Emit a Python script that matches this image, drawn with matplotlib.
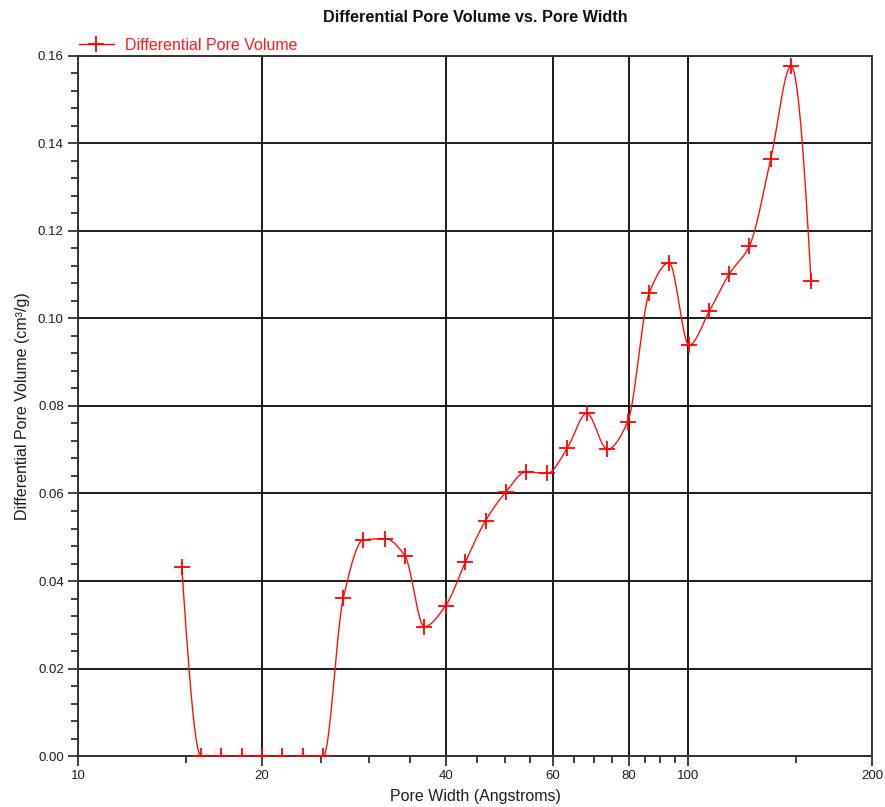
import numpy as np
import matplotlib
matplotlib.use("Agg")
import matplotlib.pyplot as plt
from matplotlib.ticker import FixedLocator, NullFormatter, MultipleLocator, FormatStrFormatter

plt.rcParams["font.family"] = ["Liberation Sans", "DejaVu Sans"]

# Pore width (Angstroms) and differential pore volume (cm3/g)
pore_width = [14.77, 15.89, 17.13, 18.57, 20.0, 21.57, 23.38, 25.21, 27.19, 29.32,
              31.83, 34.32, 36.91, 40.02, 43.09, 46.51, 50.19, 54.13, 58.73, 63.33,
              68.14, 73.67, 79.57, 86.32, 92.99, 100.3, 108.3, 116.8, 125.9, 136.5,
              147.4, 158.9]
diff_volume = [0.0433, 0.0, 0.0, 0.0, 0.0, 0.0, 0.0, 0.0, 0.0362, 0.0494,
               0.0497, 0.0457, 0.0296, 0.0344, 0.0443, 0.0538, 0.0603, 0.0649, 0.0646, 0.0704,
               0.0783, 0.0701, 0.0764, 0.1059, 0.1127, 0.0939, 0.1017, 0.1102, 0.1165, 0.1364,
               0.1576, 0.1086]

major_x = [10, 20, 40, 60, 80, 100, 200]
minor_x = [15, 25, 30, 35, 45, 50, 55, 65, 70, 75, 85, 90, 95, 150]


def pchip_curve(x, y, n=40):
    """Shape-preserving (Fritsch-Carlson) cubic through the points."""
    x = np.asarray(x, float)
    y = np.asarray(y, float)
    h = np.diff(x)
    d = np.diff(y) / h
    m = np.zeros_like(y)
    for k in range(1, len(x) - 1):
        if d[k - 1] * d[k] <= 0:
            m[k] = 0.0
        else:
            w1 = 2 * h[k] + h[k - 1]
            w2 = h[k] + 2 * h[k - 1]
            m[k] = (w1 + w2) / (w1 / d[k - 1] + w2 / d[k])

    def end_slope(h0, h1, d0, d1):
        s = ((2 * h0 + h1) * d0 - h0 * d1) / (h0 + h1)
        if np.sign(s) != np.sign(d0):
            s = 0.0
        elif np.sign(d0) != np.sign(d1) and abs(s) > abs(3 * d0):
            s = 3 * d0
        return s

    m[0] = end_slope(h[0], h[1], d[0], d[1])
    m[-1] = end_slope(h[-1], h[-2], d[-1], d[-2])
    xs, ys = [], []
    for k in range(len(x) - 1):
        t = np.linspace(0, 1, n, endpoint=(k == len(x) - 2))
        h00 = 2 * t**3 - 3 * t**2 + 1
        h10 = t**3 - 2 * t**2 + t
        h01 = -2 * t**3 + 3 * t**2
        h11 = t**3 - t**2
        xs.append(x[k] + t * h[k])
        ys.append(h00 * y[k] + h10 * h[k] * m[k] + h01 * y[k + 1] + h11 * h[k] * m[k + 1])
    return np.concatenate(xs), np.concatenate(ys)


fig = plt.figure(figsize=(8.85, 8.07), dpi=100)
ax = fig.add_axes([0.0886, 0.0630, 0.8966, 0.8680])

# smooth curve computed in log-width space
lx, ly = pchip_curve(np.log10(pore_width), diff_volume)
ax.plot(10 ** lx, ly, color="#ff1010", lw=1.0, zorder=3)
ax.plot(pore_width, diff_volume, linestyle="none", marker="+", ms=12, mew=1.3,
        color="#ff0000", zorder=4)

ax.set_xscale("log")
ax.set_xlim(10, 200)
ax.set_ylim(0, 0.16)

ax.xaxis.set_major_locator(FixedLocator(major_x))
ax.xaxis.set_major_formatter(FormatStrFormatter("%d"))
ax.xaxis.set_minor_locator(FixedLocator(minor_x))
ax.xaxis.set_minor_formatter(NullFormatter())
ax.yaxis.set_major_locator(MultipleLocator(0.02))
ax.yaxis.set_minor_locator(MultipleLocator(0.004))
ax.yaxis.set_major_formatter(FormatStrFormatter("%.2f"))

txt = "#1c1c2c"
ax.tick_params(which="major", direction="out", length=7, width=1.2, colors="#222222",
               labelcolor=txt, labelsize=9.5)
ax.tick_params(which="minor", direction="out", length=5, width=1.2, colors="#222222")
ax.tick_params(axis="x", which="major", pad=3)

ax.grid(True, which="major", color="#1a1a1a", lw=1.4)
for s in ax.spines.values():
    s.set_color("#333333")
    s.set_linewidth(1.4)

ax.set_xlabel("Pore Width (Angstroms)", fontsize=11.5, color=txt, labelpad=5)
ax.set_ylabel("Differential Pore Volume (cm\u00b3/g)", fontsize=11.5, color=txt, labelpad=6)
fig.text(0.537, 0.978, "Differential Pore Volume vs. Pore Width", ha="center", va="center",
         fontsize=11.7, fontweight="bold", color="#111111")

leg_handle = plt.Line2D([], [], color="#ff0000", lw=1.0, marker="+", ms=12, mew=1.3)
leg = fig.legend([leg_handle], ["Differential Pore Volume"], loc="center left",
                 bbox_to_anchor=(0.080, 0.944), frameon=False, fontsize=11.5,
                 handlelength=2.2, handletextpad=0.7, borderpad=0)
for t in leg.get_texts():
    t.set_color("#ff1a1a")

fig.savefig("out.png", dpi=100)
